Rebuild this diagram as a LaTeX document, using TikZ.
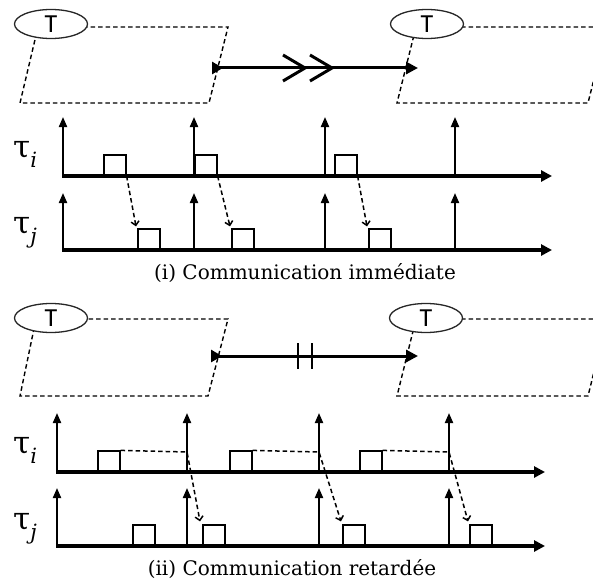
\documentclass[tikz,border=0pt]{standalone}
\usepackage{fontspec}
\newfontfamily\capfont{DejaVu Serif}
\newfontfamily\tskfont{Carlito}
\usetikzlibrary{arrows.meta, shapes.geometric, positioning}
\newcommand{\tasksub}[1]{\raisebox{-10pt}{\capfont\itshape\fontsize{21}{23}\selectfont #1}}
\tikzset{
  cmframe/.style={draw, dash pattern=on 4.5pt off 3pt, line width=1.4pt},
  cmtask/.style={ellipse, draw=black!85, line width=1.3pt, fill=white, minimum width=73pt, minimum height=29pt, inner sep=0pt, font=\tskfont\fontsize{26}{28}\selectfont},
  cmflow/.style={line width=3pt, {Triangle[reversed, length=11pt, width=12pt]}-{Triangle[length=12pt, width=12pt]}},
  cmaxis/.style={line width=4pt, -{Triangle[length=11pt, width=11pt]}},
  cmtick/.style={line width=2pt, -{Triangle[length=10pt, width=8pt]}},
  cmjob/.style={rectangle, draw, line width=1.6pt, fill=white, minimum width=22pt, minimum height=20pt, inner sep=0pt, anchor=south west},
  cmmsg/.style={dash pattern=on 4.5pt off 3pt, line width=1.5pt, -{Straight Barb[length=4pt, width=8pt]}},
  cmlabel/.style={inner sep=0pt, anchor=base west, font=\capfont\fontsize{31}{33}\selectfont},
  cmcaption/.style={inner sep=0pt, anchor=base, font=\capfont\fontsize{20}{23}\selectfont},
}

\begin{document}
\begin{tikzpicture}[x=1pt, y=-1pt]
  \useasboundingbox (0,0) rectangle (593,583);
  \clip (0,0) rectangle (593,583);

  % (i) Communication immediate: frames and tasks.
  \path[cmframe] (38,27) -- (228,27) -- (209,103) -- (20,103) -- cycle;
  \path[cmframe] (416,27) -- (607,27) -- (588,103) -- (397,103) -- cycle;
  \node[cmtask] (t1) at (51,24) {T};
  \node[cmtask] (t2) at (427,24) {T};
  \coordinate (f1s) at (212,68);
  \coordinate (f1e) at (418,68);
  \draw[cmflow] (f1s) -- (f1e);
  \draw[line width=3pt] (283,55) -- (305,68) -- (283,81);
  \draw[line width=3pt] (310,55) -- (332,68) -- (310,81);

  % (i) Time lines.
  \node[cmlabel] (li1) at (13,157) {τ\tasksub{i}};
  \node[cmlabel] (lj1) at (13,233) {τ\tasksub{j}};
  \draw[cmaxis] (62,176) -- (552,176);
  \draw[cmaxis] (62,250) -- (552,250);
  \draw[cmtick] (63,176) -- (63,117);
  \draw[cmtick] (194,176) -- (194,117);
  \draw[cmtick] (325,176) -- (325,117);
  \draw[cmtick] (455,176) -- (455,117);
  \draw[cmtick] (63,250) -- (63,193);
  \draw[cmtick] (194,250) -- (194,193);
  \draw[cmtick] (325,250) -- (325,193);
  \draw[cmtick] (455,250) -- (455,193);

  \node[cmjob] (ia1) at (103,176) {};
  \node[cmjob] (ia2) at (194,176) {};
  \node[cmjob] (ia3) at (334,176) {};
  \node[cmjob] (ib1) at (137,250) {};
  \node[cmjob] (ib2) at (231,250) {};
  \node[cmjob] (ib3) at (368,250) {};

  \draw[cmmsg] (ia1.south east) -- ([shift={(-1pt,2pt)}]ib1.north west);
  \draw[cmmsg] (ia2.south east) -- ([shift={(-1pt,2pt)}]ib2.north west);
  \draw[cmmsg] (ia3.south east) -- ([shift={(-1pt,2pt)}]ib3.north west);

  \node[cmcaption] (cap1) at (305,279) {(i) Communication immédiate};

  % (ii) Communication retardee: frames and tasks.
  \path[cmframe] (36,319) -- (228,319) -- (208,396) -- (20,396) -- cycle;
  \path[cmframe] (416,319) -- (607,319) -- (588,396) -- (397,396) -- cycle;
  \node[cmtask] (t3) at (51,318) {T};
  \node[cmtask] (t4) at (426,318) {T};
  \coordinate (f2s) at (211,356);
  \coordinate (f2e) at (418,356);
  \draw[cmflow] (f2s) -- (f2e);
  \draw[line width=2.6pt] (298,343) -- (298,369);
  \draw[line width=2.6pt] (312,343) -- (312,369);

  % (ii) Time lines.
  \node[cmlabel] (li2) at (13,453) {τ\tasksub{i}};
  \node[cmlabel] (lj2) at (13,529) {τ\tasksub{j}};
  \draw[cmaxis] (56,472) -- (545,472);
  \draw[cmaxis] (56,546) -- (545,546);
  \draw[cmtick] (57,472) -- (57,413);
  \draw[cmtick] (187,472) -- (187,413);
  \draw[cmtick] (319,472) -- (319,413);
  \draw[cmtick] (449,472) -- (449,413);
  \draw[cmtick] (57,546) -- (57,488);
  \draw[cmtick] (187,546) -- (187,488);
  \draw[cmtick] (319,546) -- (319,488);
  \draw[cmtick] (449,546) -- (449,488);

  \node[cmjob] (iia1) at (97,472) {};
  \node[cmjob] (iia2) at (229,472) {};
  \node[cmjob] (iia3) at (359,472) {};
  \node[cmjob] (iib0) at (132,546) {};
  \node[cmjob] (iib1) at (202,546) {};
  \node[cmjob] (iib2) at (342,546) {};
  \node[cmjob] (iib3) at (469,546) {};

  \coordinate (w1) at (187,452);
  \coordinate (w2) at (319,452);
  \coordinate (w3) at (449,452);
  \draw[cmmsg] (iia1.north east) -- (w1) -- ([shift={(-2pt,3pt)}]iib1.north west);
  \draw[cmmsg] (iia2.north east) -- (w2) -- ([shift={(-1pt,3pt)}]iib2.north west);
  \draw[cmmsg] (iia3.north east) -- (w3) -- ([shift={(-1pt,3pt)}]iib3.north west);

  \node[cmcaption] (cap2) at (292,575) {(ii) Communication retardée};
\end{tikzpicture}
\end{document}
